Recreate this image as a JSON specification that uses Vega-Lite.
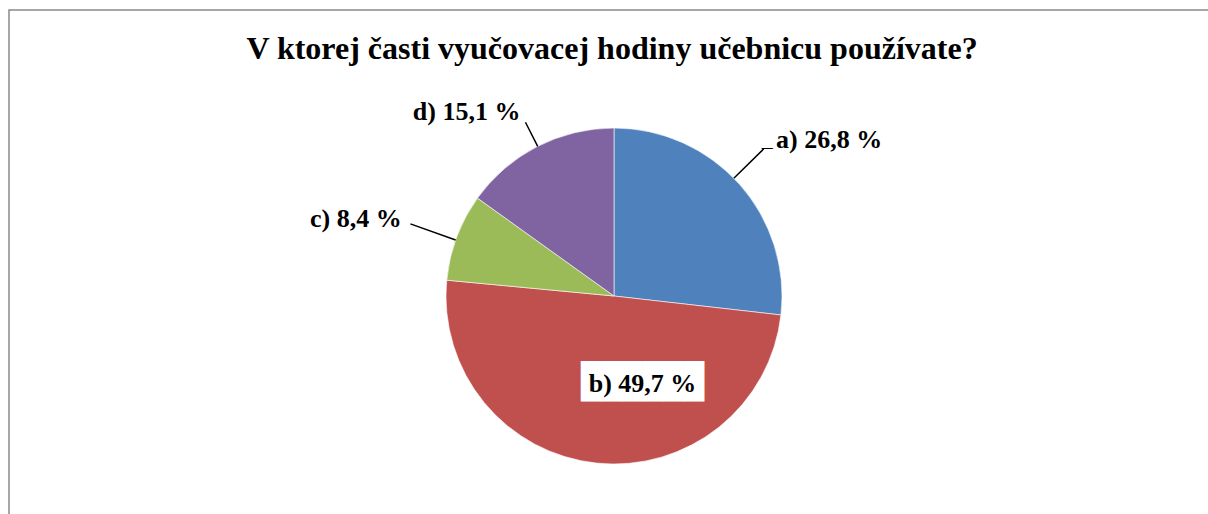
{
  "$schema": "https://vega.github.io/schema/vega-lite/v6.json",
  "width": 1210,
  "height": 572,
  "autosize": {"type": "none"},
  "padding": {"left": 9, "top": 10, "right": -11, "bottom": -68},
  "background": "white",
  "view": {"stroke": "#898989", "strokeWidth": 1.5, "fill": "#ffffff"},
  "config": {"view": {"stroke": "#898989", "strokeWidth": 1.5}},
  "title": {
    "text": "V ktorej časti vyučovacej hodiny učebnicu používate?",
    "font": "Liberation Serif",
    "fontSize": 32,
    "fontWeight": "bold",
    "color": "#000000",
    "anchor": "middle",
    "offset": -56,
    "dx": -2
  },
  "data": {
    "values": [
      {"cat": "a", "value": 26.8, "label": "a) 26,8 %"},
      {"cat": "b", "value": 49.7, "label": "b) 49,7 %"},
      {"cat": "c", "value": 8.4, "label": "c) 8,4 %"},
      {"cat": "d", "value": 15.1, "label": "d) 15,1 %"}
    ]
  },
  "layer": [
    {
      "mark": {"type": "arc", "outerRadius": 168, "stroke": "#ffffff", "strokeWidth": 0.6},
      "encoding": {
        "theta": {"field": "value", "type": "quantitative", "stack": true},
        "color": {
          "field": "cat",
          "type": "nominal",
          "scale": {"domain": ["a", "b", "c", "d"], "range": ["#4F81BD", "#C0504D", "#9BBB59", "#8064A2"]},
          "legend": null
        },
        "order": {"field": "cat"}
      }
    },
    {
      "mark": {"type": "arc", "innerRadius": 168, "outerRadius": 210, "padAngle": 3, "thetaOffset": -0.0478, "fill": null, "stroke": "#000000", "strokeWidth": 1.5},
      "encoding": {
        "theta": {"field": "value", "type": "quantitative", "stack": true},
        "order": {"field": "cat"},
        "opacity": {"condition": {"test": "datum.cat === 'a'", "value": 1}, "value": 0}
      }
    },
    {
      "mark": {"type": "arc", "innerRadius": 168, "outerRadius": 216, "padAngle": 3, "thetaOffset": -0.0178, "fill": null, "stroke": "#000000", "strokeWidth": 1.5},
      "encoding": {
        "theta": {"field": "value", "type": "quantitative", "stack": true},
        "order": {"field": "cat"},
        "opacity": {"condition": {"test": "datum.cat === 'c'", "value": 1}, "value": 0}
      }
    },
    {
      "mark": {"type": "arc", "innerRadius": 168, "outerRadius": 195, "padAngle": 3, "thetaOffset": 0.003, "fill": null, "stroke": "#000000", "strokeWidth": 1.5},
      "encoding": {
        "theta": {"field": "value", "type": "quantitative", "stack": true},
        "order": {"field": "cat"},
        "opacity": {"condition": {"test": "datum.cat === 'd'", "value": 1}, "value": 0}
      }
    },
    {
      "mark": {"type": "text", "radius": 92, "dx": 38, "dy": -5, "font": "DejaVu Sans Mono", "fontSize": 34, "align": "center", "baseline": "middle", "fill": "#ffffff"},
      "encoding": {
        "theta": {"field": "value", "type": "quantitative", "stack": true},
        "order": {"field": "cat"},
        "text": {"condition": {"test": "datum.cat === 'b'", "value": "██████"}, "value": ""}
      }
    },
    {
      "mark": {"type": "text", "radius": 259, "dx": -40, "dy": 30, "font": "Liberation Serif", "fontSize": 22, "align": "center", "baseline": "alphabetic", "fill": "#000000"},
      "encoding": {
        "theta": {"field": "value", "type": "quantitative", "stack": true},
        "order": {"field": "cat"},
        "text": {"condition": {"test": "datum.cat === 'a'", "value": "–"}, "value": ""}
      }
    },
    {
      "mark": {"type": "text", "radius": 259, "dx": 22, "dy": 24, "font": "Liberation Serif", "fontSize": 26, "fontWeight": "bold", "align": "center", "baseline": "alphabetic", "fill": "#000000"},
      "encoding": {
        "theta": {"field": "value", "type": "quantitative", "stack": true},
        "order": {"field": "cat"},
        "text": {"condition": {"test": "datum.cat === 'a'", "field": "label"}, "value": ""}
      }
    },
    {
      "mark": {"type": "text", "radius": 92, "dx": 38, "dy": 4, "font": "Liberation Serif", "fontSize": 26, "fontWeight": "bold", "align": "center", "baseline": "alphabetic", "fill": "#000000"},
      "encoding": {
        "theta": {"field": "value", "type": "quantitative", "stack": true},
        "order": {"field": "cat"},
        "text": {"condition": {"test": "datum.cat === 'b'", "field": "label"}, "value": ""}
      }
    },
    {
      "mark": {"type": "text", "radius": 266, "dx": -9, "dy": 24, "font": "Liberation Serif", "fontSize": 26, "fontWeight": "bold", "align": "center", "baseline": "alphabetic", "fill": "#000000"},
      "encoding": {
        "theta": {"field": "value", "type": "quantitative", "stack": true},
        "order": {"field": "cat"},
        "text": {"condition": {"test": "datum.cat === 'c'", "field": "label"}, "value": ""}
      }
    },
    {
      "mark": {"type": "text", "radius": 224, "dx": -45, "dy": 23, "font": "Liberation Serif", "fontSize": 26, "fontWeight": "bold", "align": "center", "baseline": "alphabetic", "fill": "#000000"},
      "encoding": {
        "theta": {"field": "value", "type": "quantitative", "stack": true},
        "order": {"field": "cat"},
        "text": {"condition": {"test": "datum.cat === 'd'", "field": "label"}, "value": ""}
      }
    }
  ]
}
